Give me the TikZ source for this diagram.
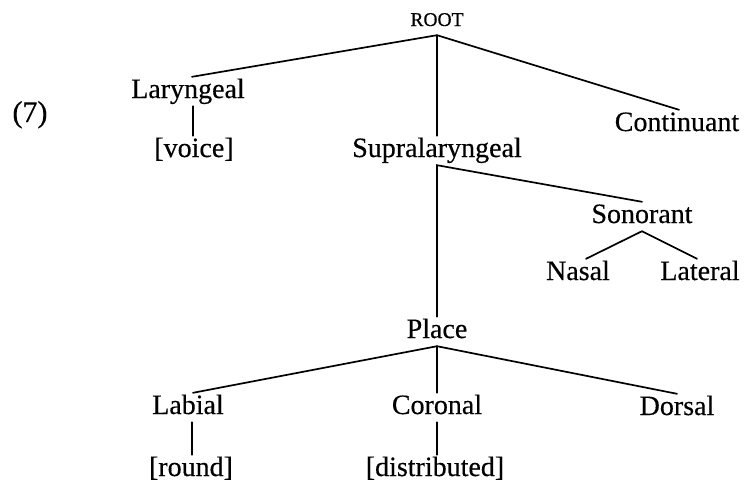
\documentclass[tikz,border=0pt]{standalone}
\usepackage{fontspec}
\setmainfont{Liberation Serif}[FakeBold=0.4]
\usetikzlibrary{calc}
\tikzset{
  lab/.style={anchor=base, inner sep=2pt, text height=19pt, text depth=6pt,
    font=\fontsize{28}{32}\selectfont},
  rootlab/.style={anchor=base, inner sep=2pt, text height=13pt, text depth=7pt,
    font=\fontsize{19.5}{22}\selectfont},
  edge/.style={draw=black, line width=1.7pt, line cap=round}
}
\begin{document}
\begin{tikzpicture}[x=1pt,y=-1pt]
\useasboundingbox (0,0) rectangle (744,482);
\node[anchor=base, inner sep=0pt, font=\fontsize{30}{34}\selectfont] (num) at (30,122) {(7)};
\node[rootlab] (root) at (437,26) {ROOT};
\node[lab] (lar) at (188,98) {Laryngeal};
\node[lab] (voice) at (194,157) {[voice]};
\node[lab] (cont) at (677,131) {Continuant};
\node[lab] (sup) at (437,157) {Supralaryngeal};
\node[lab] (son) at (642,223) {Sonorant};
\node[lab] (nas) at (578,280) {Nasal};
\node[lab] (lat) at (700,280) {Lateral};
\node[lab] (place) at (437,338) {Place};
\node[lab] (labial) at (188,414) {Labial};
\node[lab] (round) at (191,476) {[round]};
\node[lab] (cor) at (437,414) {Coronal};
\node[lab] (dist) at (435,476) {[distributed]};
\node[lab] (dor) at (677,415) {Dorsal};

\draw[edge] ($(lar.north)+(4,0)$) -- (root.south) -- ($(cont.north)+(2,0)$);
\draw[edge] (root.south) -- (sup.north);
\draw[edge] (voice.north -| lar.south) ++(5,0) coordinate (v1) -- (v1 |- lar.south);
\draw[edge] (place.north) -- (sup.south) -- (son.north);
\draw[edge] ($(nas.north)+(8,0)$) -- (son.south) -- ($(lat.north)+(-3,0)$);
\draw[edge] ($(labial.north)+(5,0)$) -- (place.south) -- (dor.north);
\draw[edge] (place.south) -- (cor.north);
\draw[edge] (round.north) ++(1,0) coordinate (r1) -- (r1 |- labial.south);
\draw[edge] (dist.north -| cor.south) -- (cor.south);
\end{tikzpicture}
\end{document}
